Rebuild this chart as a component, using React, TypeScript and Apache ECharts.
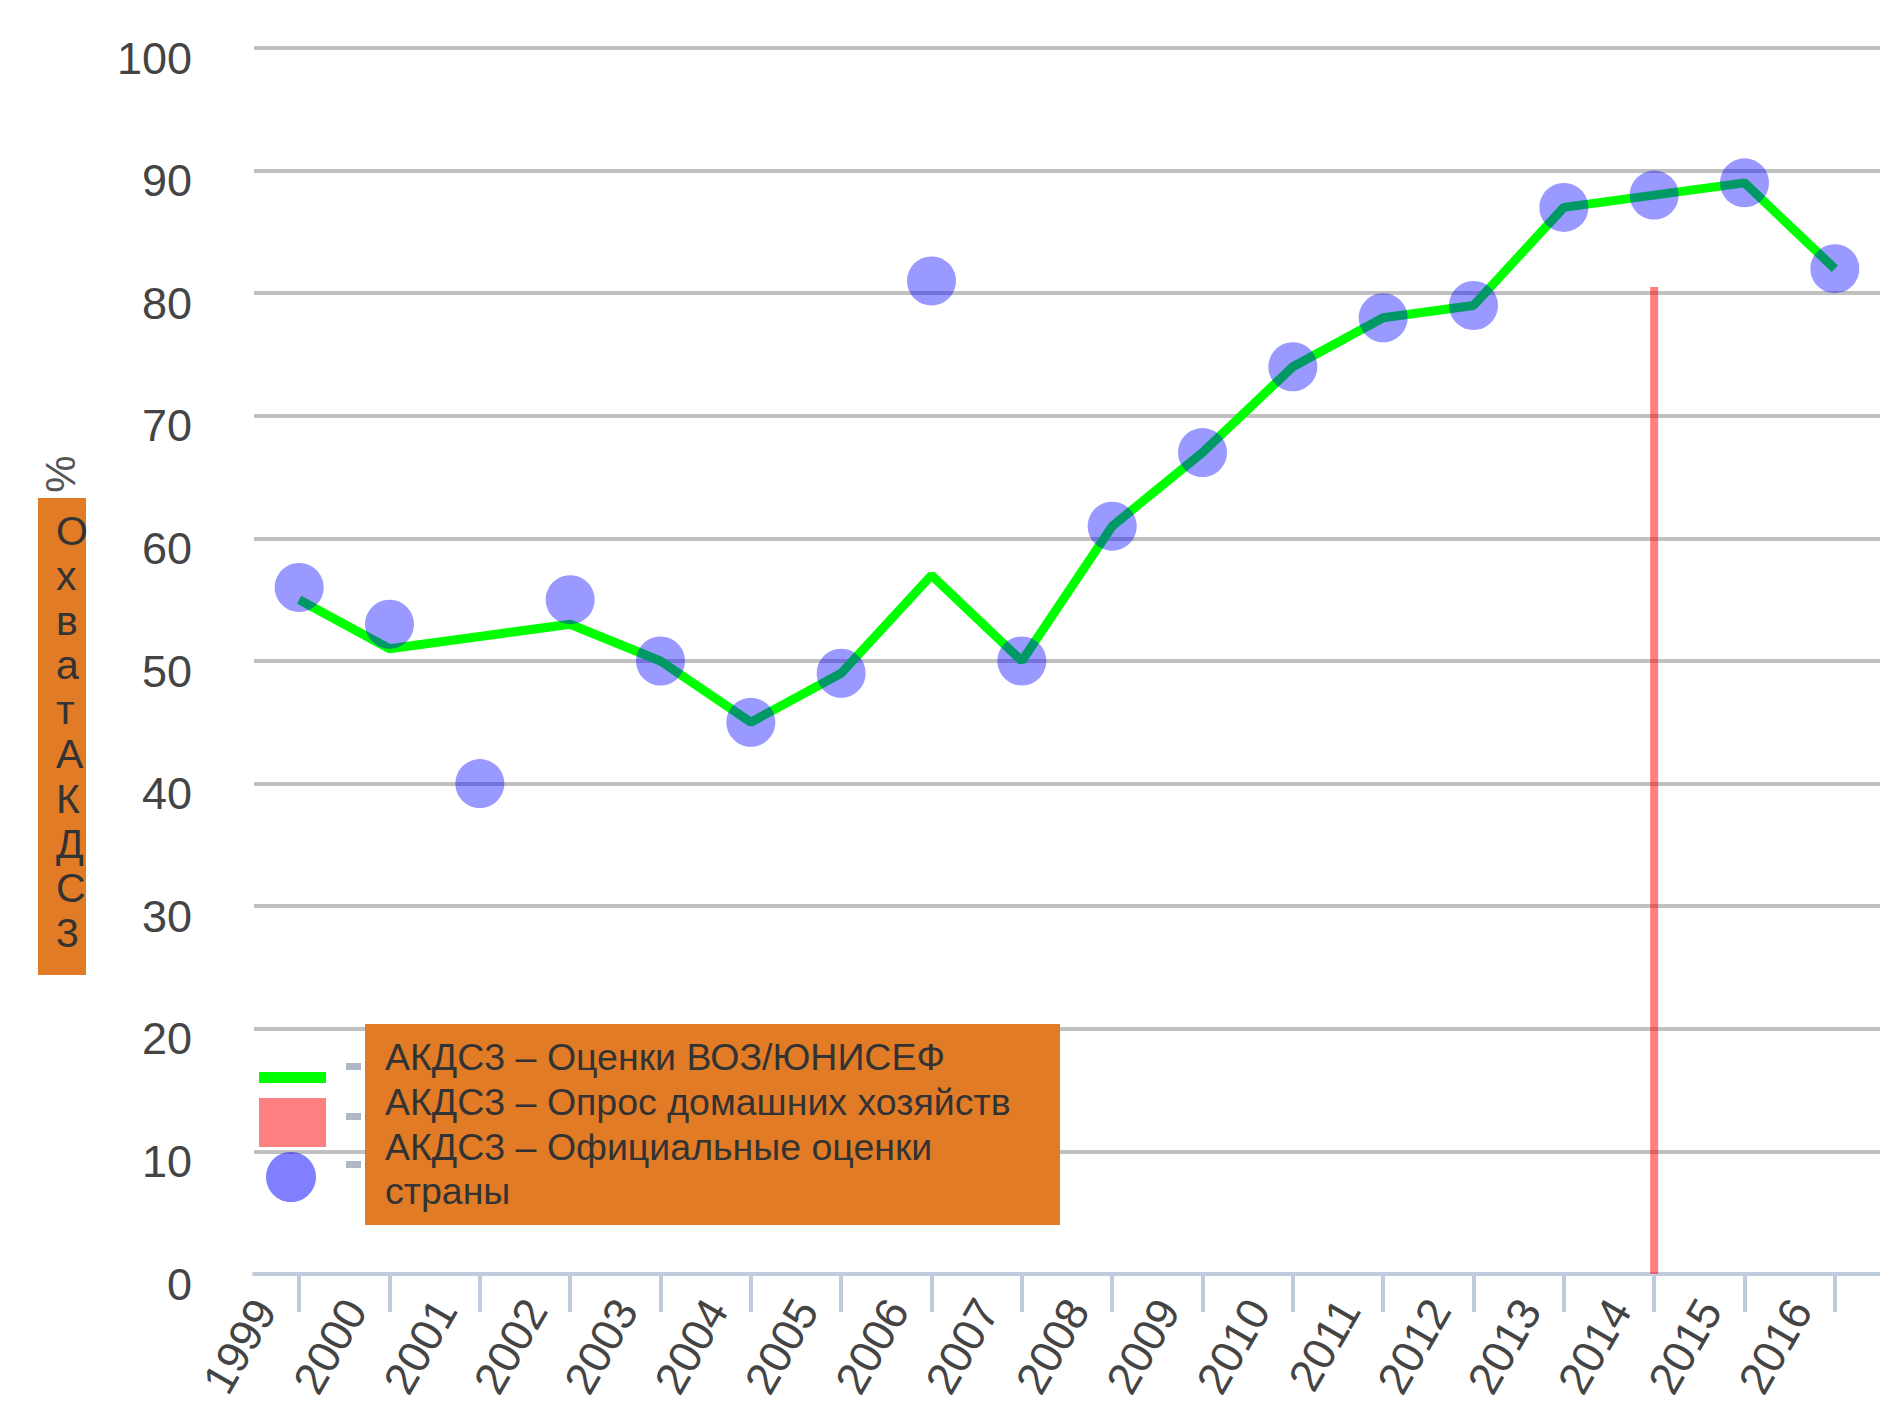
import React, { useEffect, useRef } from "react";
import * as echarts from "echarts";

const years = ["1999", "2000", "2001", "2002", "2003", "2004", "2005", "2006", "2007", "2008", "2009", "2010", "2011", "2012", "2013", "2014", "2015", "2016"];
const wuenicValues = [55, 51, 52, 53, 50, 45, 49, 57, 50, 61, 67, 74, 78, 79, 87, 88, 89, 82];
const officialValues = [56, 53, 40, 55, 50, 45, 49, 81, 50, 61, 67, 74, 78, 79, 87, 88, 89, 82];
const surveyValues: (number | null)[] = [null, null, null, null, null, null, null, null, null, null, null, null, null, null, null, 80.5, null, null];
const yTicks = { min: 0, max: 100, interval: 10 };
const legendLines = ["АКДС3 – Оценки ВОЗ/ЮНИСЕФ", "АКДС3 – Опрос домашних хозяйств", "АКДС3 – Официальные оценки", "страны"];
const yNameChars = ["О", "х", "в", "а", "т", "А", "К", "Д", "С", "3"];

const FONT = "'Liberation Sans', Arial, sans-serif";

export default function App() {
  const ref = useRef<HTMLDivElement>(null);
  useEffect(() => {
    if (!ref.current) return;
    document.body.style.margin = "0";
    const chart = echarts.init(ref.current, null, { renderer: "svg" });
    const orange = "#E27B26";
    const option: any = {
      animation: false,
      backgroundColor: "#ffffff",
      textStyle: { fontFamily: FONT },
      grid: { left: 254, right: 0, top: 48, bottom: 131, containLabel: false, outerBoundsMode: "none" },
      xAxis: {
        type: "category",
        data: years,
        boundaryGap: true,
        axisLine: { lineStyle: { color: "#c0cbdd", width: 4 } },
        axisTick: { show: true, alignWithLabel: true, length: 38, lineStyle: { color: "#c0cbdd", width: 4 } },
        axisLabel: {
          rotate: 60,
          fontSize: 45,
          color: "#444",
          fontFamily: FONT,
          margin: -31,
          padding: [0, 69, 0, 0],
          interval: 0,
        },
        splitLine: { show: false },
      },
      yAxis: {
        type: "value",
        min: yTicks.min,
        max: yTicks.max,
        interval: yTicks.interval,
        axisLine: { show: false },
        axisTick: { show: false },
        axisLabel: { fontSize: 45, color: "#444", fontFamily: FONT, margin: 62, verticalAlign: "top", lineHeight: 20 },
        splitLine: { lineStyle: { color: "#c0c0c0", width: 4 } },
      },
      series: [
        {
          name: "АКДС3 – Опрос домашних хозяйств",
          type: "bar",
          data: surveyValues,
          barWidth: 8,
          itemStyle: { color: "rgba(255,0,0,0.5)" },
          z: 2,
        },
        {
          name: "АКДС3 – Оценки ВОЗ/ЮНИСЕФ",
          type: "line",
          data: wuenicValues,
          symbol: "none",
          lineStyle: { color: "#00ff00", width: 9 },
          z: 3,
        },
        {
          name: "АКДС3 – Официальные оценки страны",
          type: "scatter",
          data: officialValues,
          symbolSize: 49,
          itemStyle: { color: "rgba(0,0,255,0.5)" },
          z: 4,
        },
      ],
      graphic: [
        // y axis name box
        { type: "rect", z: 100, shape: { x: 38, y: 498, width: 48, height: 477 }, style: { fill: orange } },
        {
          type: "text",
          z: 101,
          x: 56,
          y: 509,
          style: { text: yNameChars.join("\n"), fontSize: 41, lineHeight: 44.6, fontFamily: FONT, fill: "#333", textAlign: "left", textVerticalAlign: "top" },
        },
        {
          type: "text",
          z: 101,
          x: 60,
          y: 474,
          rotation: Math.PI / 2,
          style: { text: "%", fontSize: 42, fontFamily: FONT, fill: "#555", textAlign: "center", textVerticalAlign: "middle" },
        },
        // legend swatches
        { type: "rect", z: 100, shape: { x: 259, y: 1072, width: 67, height: 11 }, style: { fill: "#00ff00" } },
        { type: "rect", z: 100, shape: { x: 259, y: 1098, width: 67, height: 49 }, style: { fill: "#ff8080" } },
        { type: "circle", z: 100, shape: { cx: 291, cy: 1177, r: 25 }, style: { fill: "rgba(0,0,255,0.5)" } },
        { type: "rect", z: 100, shape: { x: 346, y: 1063, width: 15, height: 7 }, style: { fill: "#b0b8c8" } },
        { type: "rect", z: 100, shape: { x: 346, y: 1113, width: 15, height: 7 }, style: { fill: "#b0b8c8" } },
        { type: "rect", z: 100, shape: { x: 346, y: 1161, width: 15, height: 7 }, style: { fill: "#b0b8c8" } },
        // legend text box
        { type: "rect", z: 100, shape: { x: 365, y: 1024, width: 695, height: 201 }, style: { fill: orange } },
        {
          type: "text",
          z: 101,
          x: 385,
          y: 1035,
          style: { text: legendLines.join("\n"), fontSize: 37.5, lineHeight: 44.7, fontFamily: FONT, fill: "#333", textAlign: "left", textVerticalAlign: "top" },
        },
      ],
    };
    chart.setOption(option);
    return () => chart.dispose();
  }, []);
  return <div ref={ref} style={{ position: "absolute", left: 0, top: 0, width: 1880, height: 1405 }} />;
}
